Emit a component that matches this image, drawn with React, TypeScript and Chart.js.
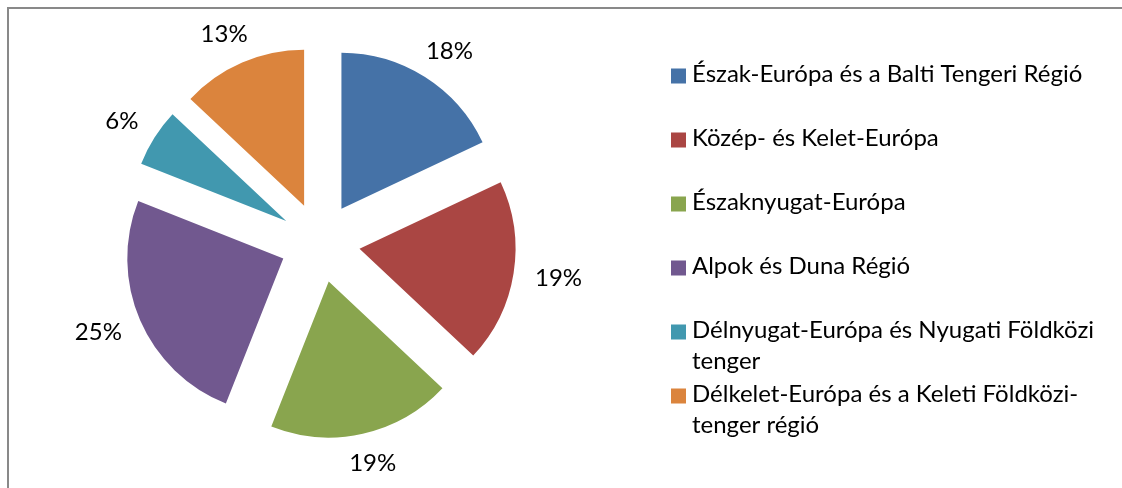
import React, { useEffect, useRef } from "react";
import { Chart, registerables } from "chart.js";

Chart.register(...registerables);

// ---- data ----
const categories: string[] = [
  "Észak-Európa és a Balti Tengeri Régió",
  "Közép- és Kelet-Európa",
  "Északnyugat-Európa",
  "Alpok és Duna Régió",
  "Délnyugat-Európa és Nyugati Földközi tenger",
  "Délkelet-Európa és a Keleti Földközi-tenger régió",
];

const legendLines: string[][] = [
  ["Észak-Európa és a Balti Tengeri Régió"],
  ["Közép- és Kelet-Európa"],
  ["Északnyugat-Európa"],
  ["Alpok és Duna Régió"],
  ["Délnyugat-Európa és Nyugati Földközi", "tenger"],
  ["Délkelet-Európa és a Keleti Földközi-", "tenger régió"],
];

const shares: number[] = [18, 19, 19, 25, 6, 13];

const colors: string[] = ["#4572A7", "#AA4643", "#89A54E", "#71588F", "#4198AF", "#DB843D"];

// ---- style ----
const EXPLODE = 40;
const PIE_RADIUS = 156;
const LABEL_GAP = 22;
const FONT = "24px Lato";
const CANVAS_W = 1113;
const CANVAS_H = 479;

const explodePlugin = {
  id: "explodeSlices",
  afterDatasetsUpdate(chart: any) {
    const meta = chart.getDatasetMeta(0);
    meta.data.forEach((arc: any) => {
      const mid = (arc.startAngle + arc.endAngle) / 2;
      arc.x += EXPLODE * Math.cos(mid);
      arc.y += EXPLODE * Math.sin(mid);
    });
  },
};

const labelsPlugin = {
  id: "pieLabels",
  afterDatasetsDraw(chart: any) {
    const ctx = chart.ctx as CanvasRenderingContext2D;
    const meta = chart.getDatasetMeta(0);
    const data = chart.data.datasets[0].data as number[];
    const total = data.reduce((a, b) => a + b, 0);
    ctx.save();
    ctx.font = FONT;
    ctx.fillStyle = "#000000";
    ctx.textAlign = "center";
    ctx.textBaseline = "middle";
    meta.data.forEach((arc: any, i: number) => {
      const mid = (arc.startAngle + arc.endAngle) / 2;
      const dx = Math.cos(mid);
      const dy = Math.sin(mid);
      const text = Math.round((data[i] / total) * 100) + "%";
      const w = ctx.measureText(text).width;
      const h = 17;
      const r = arc.outerRadius + LABEL_GAP;
      const x = arc.x + dx * r + (dx * w) / 2;
      const y = arc.y + dy * r + (dy * h) / 2;
      ctx.fillText(text, x, y);
    });
    ctx.restore();
  },
};

const legendPlugin = {
  id: "sideLegend",
  afterDraw(chart: any) {
    const ctx = chart.ctx as CanvasRenderingContext2D;
    const bg = chart.data.datasets[0].backgroundColor as string[];
    const boxX = 662;
    const box = 15;
    const textX = 683;
    const y0 = 65;
    const step = 64;
    const lineH = 31.5;
    ctx.save();
    ctx.font = FONT;
    ctx.fillStyle = "#000000";
    ctx.textAlign = "left";
    ctx.textBaseline = "middle";
    legendLines.forEach((lines, i) => {
      const y = y0 + step * i;
      ctx.fillStyle = bg[i];
      ctx.fillRect(boxX, y + 2 - box / 2, box, box);
      ctx.fillStyle = "#000000";
      lines.forEach((ln, j) => {
        ctx.fillText(ln, textX, y + j * lineH);
      });
    });
    ctx.restore();
  },
};

export default function App() {
  const canvasRef = useRef<HTMLCanvasElement | null>(null);

  useEffect(() => {
    if (!canvasRef.current) return;
    const chart = new Chart(canvasRef.current, {
      type: "pie",
      data: {
        labels: categories,
        datasets: [
          {
            data: shares,
            backgroundColor: colors,
            borderWidth: 0,
            radius: PIE_RADIUS,
          } as any,
        ],
      },
      options: {
        responsive: false,
        animation: false,
        events: [],
        layout: { padding: { left: 0, top: 0, right: CANVAS_W - 622, bottom: CANVAS_H - 467 } },
        plugins: {
          legend: { display: false },
          tooltip: { enabled: false },
        },
      } as any,
      plugins: [explodePlugin, labelsPlugin, legendPlugin] as any,
    });
    return () => chart.destroy();
  }, []);

  return (
    <div
      style={{
        position: "absolute",
        left: 7,
        top: 7,
        width: 1115,
        height: 481,
        boxSizing: "border-box",
        borderLeft: "2px solid #898989",
        borderTop: "2px solid #898989",
        overflow: "hidden",
        background: "#ffffff",
      }}
    >
      <canvas
        ref={canvasRef}
        width={CANVAS_W}
        height={CANVAS_H}
        style={{ display: "block", width: CANVAS_W, height: CANVAS_H }}
      />
    </div>
  );
}
